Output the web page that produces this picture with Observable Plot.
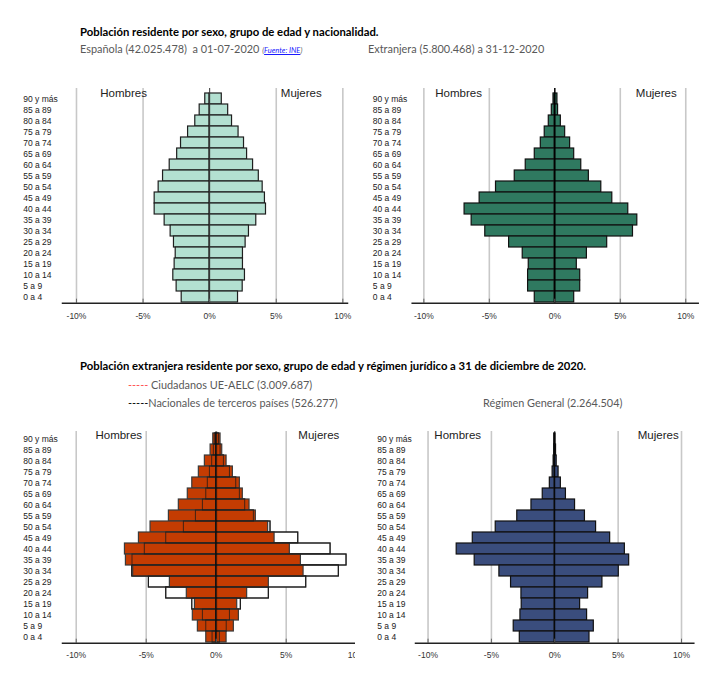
<!DOCTYPE html>
<html>
<head>
<meta charset="utf-8">
<script src="https://cdn.jsdelivr.net/npm/d3@7"></script>
<script src="https://cdn.jsdelivr.net/npm/@observablehq/plot@0.6"></script>
<style>
  body { margin: 0; background: #fff; }
  #root { position: relative; width: 706px; height: 691px; overflow: hidden; background: #fff; }
  .t { position: absolute; white-space: nowrap; font-family: Lato, "Open Sans", sans-serif; line-height: 12px; }
  .title { font-weight: bold; font-size: 11.3px; color: #000; }
  .sub { font-size: 10.9px; color: #595959; }
  .src { font-size: 7.5px; font-style: italic; color: #595959; }
  .src a { color: #1a1aff; text-decoration: underline; }
  .panel { position: absolute; overflow: hidden; }
</style>
</head>
<body>
<div id="root">
  <div class="t title" style="left:80px;top:26px">Población residente por sexo, grupo de edad y nacionalidad.</div>
  <div class="t sub" style="left:80px;top:43px">Española (42.025.478)&nbsp; a 01-07-2020 <span class="src">(<a>Fuente: INE</a>)</span></div>
  <div class="t sub" style="left:368px;top:43px">Extranjera (5.800.468) a 31-12-2020</div>
  <div class="t title" style="left:80px;top:360px">Población extranjera residente por sexo, grupo de edad y régimen jurídico a 31 de diciembre de 2020.</div>
  <div class="t sub" style="left:128px;top:379px"><span style="color:#ff4d4d">-----</span> Ciudadanos UE-AELC (3.009.687)</div>
  <div class="t sub" style="left:128px;top:397px"><span style="color:#000">-----</span>Nacionales de terceros países (526.277)</div>
  <div class="t sub" style="left:483px;top:397px">Régimen General (2.264.504)</div>
</div>
<script>
const ages = ["90 y más","85 a 89","80 a 84","75 a 79","70 a 74","65 a 69","60 a 64","55 a 59","50 a 54","45 a 49","40 a 44","35 a 39","30 a 34","25 a 29","20 a 24","15 a 19","10 a 14","5 a 9","0 a 4"];
const tickValues = [-10, -5, 0, 5, 10];
const sexLabels = ["Hombres", "Mujeres"];

// Española (% of total)
const espanolaHombres = [0.33,0.75,1.08,1.62,2.15,2.44,3.0,3.5,3.83,4.13,4.13,3.38,2.93,2.68,2.55,2.63,2.73,2.48,2.1];
const espanolaMujeres = [0.91,1.39,1.68,2.17,2.58,2.81,3.26,3.69,3.98,4.15,4.23,3.5,2.95,2.7,2.5,2.5,2.65,2.48,2.13];
// Extranjera
const extranjeraHombres = [0.1,0.23,0.46,0.77,1.07,1.53,2.22,3.06,4.49,5.74,6.89,6.35,5.31,3.49,2.45,1.99,2.04,2.04,1.53];
const extranjeraMujeres = [0.2,0.25,0.46,0.79,1.17,1.48,2.02,2.6,3.55,4.39,5.61,6.3,5.97,4.0,2.45,1.68,1.94,1.94,1.48];
// Ciudadanos UE-AELC
const ueHombres = [0.21,0.40,0.81,1.24,1.71,2.03,2.67,3.38,4.69,5.52,6.52,6.45,5.93,3.31,2.10,1.52,1.67,1.31,0.71];
const ueMujeres = [0.31,0.43,0.74,1.19,1.69,1.90,2.38,2.83,3.71,4.17,5.26,6.05,6.24,3.76,2.21,1.50,1.62,1.26,0.74];
// Nacionales de terceros países
const tercerosHombres = [0.1,0.17,0.29,0.45,0.60,0.71,0.95,1.45,2.31,3.57,5.10,5.98,6.00,4.81,3.57,1.71,0.95,0.71,0.26];
const tercerosMujeres = [0.2,0.31,0.55,0.98,1.43,1.69,2.07,2.69,3.88,5.86,8.17,9.31,8.76,6.43,3.76,1.76,0.98,0.75,0.26];
// Régimen General
const generalHombres = [0.04,0.05,0.09,0.17,0.39,0.95,1.84,2.96,4.66,6.47,7.74,6.32,4.37,3.45,2.63,2.61,2.71,3.24,2.76];
const generalMujeres = [0.06,0.1,0.15,0.3,0.48,0.88,1.6,2.38,3.26,4.37,5.53,5.87,5.05,3.76,2.63,2.0,2.55,3.08,2.74];

function rowsOf(men, women) {
  return ages.flatMap((a, i) => [
    {age: a, v: -men[i]},
    {age: a, v: women[i]}
  ]);
}

function panel(cfg) {
  const frameH = cfg.height - cfg.marginTop - cfg.marginBottom;
  const main = rowsOf(cfg.men, cfg.women);
  const marks = [
    Plot.ruleX(tickValues.filter(t => t !== 0), {stroke: "#c8c8c8", strokeWidth: 1.6}),
  ];
  if (cfg.outline) {
    const o = rowsOf(cfg.outline.men, cfg.outline.women);
    marks.push(Plot.barX(o, {y: "age", x: "v", fill: "#fff", stroke: "#222", strokeWidth: 1.2}));
    marks.push(Plot.barX(main, {y: "age", x: "v", fill: cfg.fill, stroke: cfg.stroke, strokeWidth: 1.2}));
    marks.push(Plot.barX(o, {y: "age", x: "v", fill: "none", stroke: "#1a1a1a", strokeWidth: 1, strokeOpacity: 0.75}));
  } else {
    marks.push(Plot.barX(main, {y: "age", x: "v", fill: cfg.fill, stroke: cfg.stroke, strokeWidth: 1.2}));
  }
  marks.push(
    Plot.ruleX([0], {stroke: cfg.zeroStroke, strokeWidth: cfg.zeroWidth, strokeOpacity: cfg.zeroOpacity}),
    Plot.ruleX(tickValues, {stroke: "#666", strokeWidth: 1, insetTop: frameH - 4}),
    Plot.frame({anchor: "bottom", stroke: "#222", strokeWidth: 1.5}),
    Plot.axisX({ticks: tickValues, tickFormat: d => d + "%", tickSize: 0, tickPadding: cfg.tickPadding,
      label: null, fontSize: 8.5, fill: "#333", fontFamily: "Liberation Sans, Arial, sans-serif"}),
    Plot.text(ages, {y: d => d, text: d => d, frameAnchor: "left", textAnchor: "start", dx: cfg.labelDx,
      fontSize: 8.5, fill: "#222", fontFamily: "Liberation Sans, Arial, sans-serif"}),
    Plot.text(sexLabels, {x: cfg.sexX, text: d => d, frameAnchor: "top", lineAnchor: "middle", dy: cfg.sexDy,
      fontSize: 11.5, fill: "#222", fontFamily: "Liberation Sans, Arial, sans-serif"})
  );
  const chart = Plot.plot({
    width: cfg.svgWidth, height: cfg.height,
    marginLeft: cfg.marginLeft, marginRight: cfg.marginRight,
    marginTop: cfg.marginTop, marginBottom: cfg.marginBottom,
    style: {background: "transparent", maxWidth: "none", overflow: "visible"},
    x: {domain: cfg.domain, axis: null, label: null},
    y: {domain: ages, axis: null, padding: 0, insetTop: cfg.insetTop},
    marks
  });
  const div = document.createElement("div");
  div.className = "panel";
  div.style.left = cfg.left + "px";
  div.style.top = cfg.top + "px";
  div.style.width = cfg.width + "px";
  div.style.height = cfg.height + "px";
  div.appendChild(chart);
  document.getElementById("root").appendChild(div);
}

panel({left: 0, top: 80, width: 355, svgWidth: 355, height: 250,
  marginLeft: 62, marginRight: 8, marginTop: 8, marginBottom: 27.3, insetTop: 3.6,
  domain: [-11.05, 10.35], men: espanolaHombres, women: espanolaMujeres,
  fill: "#b3e0d1", stroke: "#1e1e1e", zeroStroke: "#333", zeroWidth: 1, zeroOpacity: 1,
  labelDx: -39.3, sexX: [-6.46, 6.88], sexDy: 4.7, tickPadding: 9.5});

panel({left: 355, top: 80, width: 351, svgWidth: 351, height: 250,
  marginLeft: 56.7, marginRight: 8.3, marginTop: 8, marginBottom: 27.3, insetTop: 3.6,
  domain: [-10.89, 10.95], men: extranjeraHombres, women: extranjeraMujeres,
  fill: "#2f7960", stroke: "#111", zeroStroke: "#000", zeroWidth: 1.5, zeroOpacity: 1,
  labelDx: -39.4, sexX: [-7.35, 7.75], sexDy: 4.7, tickPadding: 9.5});

panel({left: 0, top: 420, width: 355, svgWidth: 380, height: 271,
  marginLeft: 62, marginRight: 10.3, marginTop: 11, marginBottom: 48.3, insetTop: 2.3,
  domain: [-10.98, 11], men: ueHombres, women: ueMujeres,
  outline: {men: tercerosHombres, women: tercerosMujeres},
  fill: "#c43c02", stroke: "#3a3a3a", zeroStroke: "#000", zeroWidth: 2, zeroOpacity: 0.45,
  labelDx: -39.3, sexX: [-6.96, 7.33], sexDy: 4, tickPadding: 8.5});

panel({left: 355, top: 420, width: 351, svgWidth: 351, height: 271,
  marginLeft: 60, marginRight: 12.7, marginTop: 11, marginBottom: 48.3, insetTop: 2.3,
  domain: [-10.99, 10.97], men: generalHombres, women: generalMujeres,
  fill: "#3a4d7d", stroke: "#111", zeroStroke: "#000", zeroWidth: 1, zeroOpacity: 0.8,
  labelDx: -38.3, sexX: [-7.66, 8.16], sexDy: 3.5, tickPadding: 8.5});
</script>
</body>
</html>
